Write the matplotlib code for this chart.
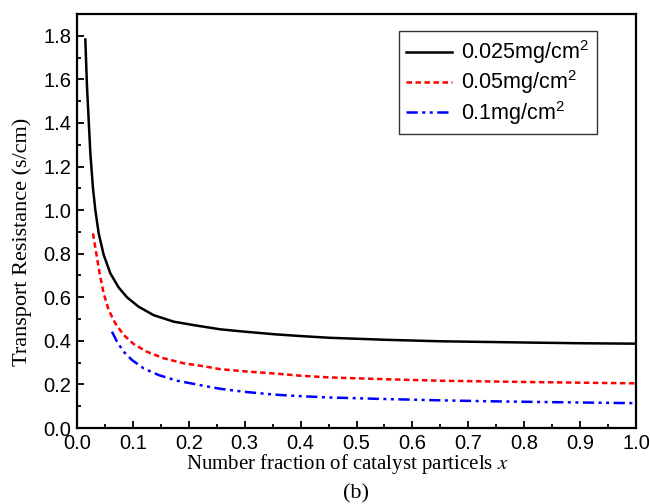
import matplotlib
matplotlib.use("Agg")
import matplotlib.pyplot as plt
from matplotlib.ticker import MultipleLocator

# Data
x_black = [0.0149, 0.0179, 0.0209, 0.0239, 0.0286, 0.0328, 0.0388, 0.0477, 0.0596, 0.0745,
           0.0894, 0.110, 0.137, 0.173, 0.209, 0.256, 0.30, 0.354, 0.40, 0.452,
           0.55, 0.649, 0.73, 0.81, 0.90, 0.998]
y_black = [1.783, 1.566, 1.413, 1.260, 1.100, 1.000, 0.893, 0.795, 0.710, 0.645,
           0.600, 0.557, 0.518, 0.488, 0.472, 0.453, 0.442, 0.430, 0.422, 0.414,
           0.405, 0.398, 0.395, 0.392, 0.389, 0.387]

x_red = [0.0286, 0.0346, 0.0405, 0.0477, 0.0567, 0.0686, 0.0835, 0.101, 0.125, 0.155,
         0.191, 0.230, 0.256, 0.30, 0.354, 0.40, 0.452, 0.55, 0.649, 0.73,
         0.81, 0.90, 0.998]
y_red = [0.893, 0.800, 0.709, 0.618, 0.541, 0.480, 0.427, 0.386, 0.350, 0.320,
         0.297, 0.282, 0.270, 0.260, 0.250, 0.240, 0.232, 0.224, 0.217, 0.214,
         0.211, 0.208, 0.205]

x_blue = [0.0626, 0.0716, 0.0835, 0.0984, 0.119, 0.146, 0.179, 0.230, 0.256, 0.30,
          0.354, 0.40, 0.452, 0.55, 0.649, 0.73, 0.81, 0.90, 0.998]
y_blue = [0.442, 0.396, 0.350, 0.312, 0.274, 0.243, 0.217, 0.192, 0.180, 0.166,
          0.153, 0.146, 0.140, 0.133, 0.127, 0.123, 0.120, 0.117, 0.114]

labels = ["0.025mg/cm$^2$", "0.05mg/cm$^2$", "0.1mg/cm$^2$"]
xticks = [0.0, 0.1, 0.2, 0.3, 0.4, 0.5, 0.6, 0.7, 0.8, 0.9, 1.0]
yticks = [0.0, 0.2, 0.4, 0.6, 0.8, 1.0, 1.2, 1.4, 1.6, 1.8]

plt.rcParams['font.family'] = ['Liberation Sans', 'DejaVu Sans']
plt.rcParams['mathtext.fontset'] = 'custom'
plt.rcParams['mathtext.rm'] = 'Liberation Sans'

fig = plt.figure(figsize=(6.5, 5.04), dpi=100)
ax = fig.add_axes([77/650, 76/504, (636-77)/650, (428-14)/504])

ax.plot(x_black, y_black, color='black', lw=1.8, label=labels[0])
ax.plot(x_red, y_red, color='red', lw=1.8, ls=(0, (2.2, 1.4)), label=labels[1])
ax.plot(x_blue, y_blue, color='blue', lw=1.8, ls=(0, (4.5, 1.8, 1.2, 1.8, 1.2, 1.8)), label=labels[2])

ax.set_xlim(0, 1.0)
ax.set_ylim(0, 1.9)
ax.set_xticks(xticks)
ax.set_yticks(yticks)
ax.set_xticklabels([f"{v:.1f}" for v in xticks])
ax.set_yticklabels([f"{v:.1f}" for v in yticks])
ax.xaxis.set_minor_locator(MultipleLocator(0.05))
ax.yaxis.set_minor_locator(MultipleLocator(0.1))
ax.tick_params(which='both', direction='in', top=False, right=False, labelsize=14.5, width=1.3, pad=4)
ax.tick_params(which='major', length=5)
ax.tick_params(which='minor', length=3)
for s in ax.spines.values():
    s.set_linewidth(1.6)

fig.text(22/650, 1 - 242/504, "Transport Resistance (s/cm)", family='Liberation Serif', fontsize=16,
         rotation=90, ha='center', va='center')
fig.text(347/650, 1 - 464/504, "Number fraction of catalyst particels $\\mathit{x}$",
         family='Liberation Serif', fontsize=15, ha='center', va='center',
         math_fontfamily='stix')
fig.text(356/650, 1 - 494/504, "(b)", family='Liberation Serif', fontsize=16,
         ha='center', va='center')

leg = ax.legend(loc='upper right', bbox_to_anchor=(597/650, 1 - 31/504), bbox_transform=fig.transFigure,
                fontsize=15.5, frameon=True, fancybox=False, edgecolor='black', borderaxespad=0,
                handlelength=2.1, handletextpad=0.45, borderpad=0.35, labelspacing=0.1)
leg.get_frame().set_linewidth(1.0)

fig.savefig("out.png", dpi=100)
